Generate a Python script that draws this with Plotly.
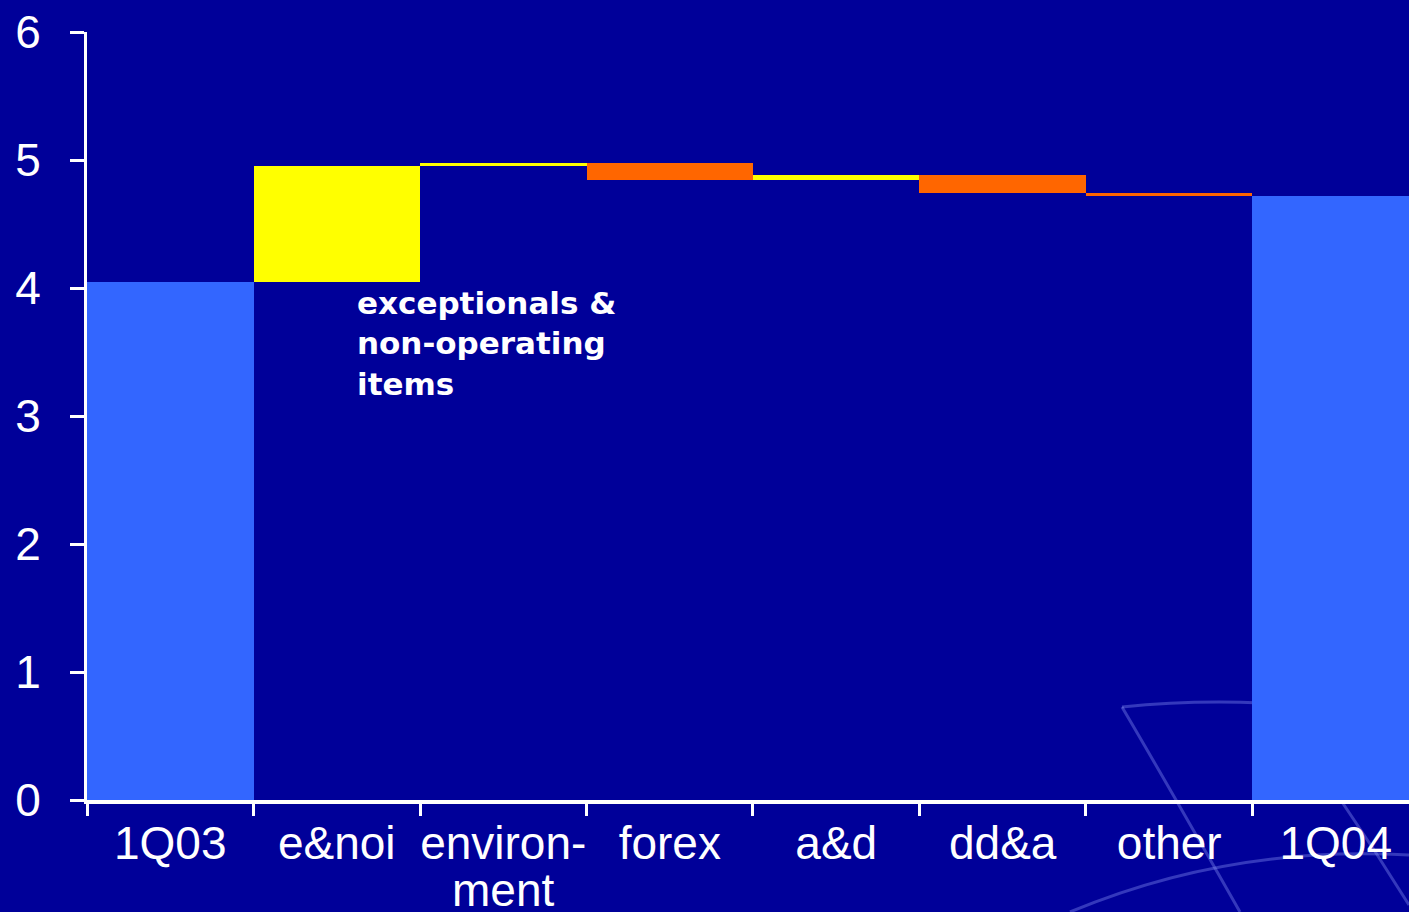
import plotly.graph_objects as go

# EPS bridge: 1Q03 to 1Q04
categories = ["1Q03", "e&noi", "environment", "forex", "a&d", "dd&a", "other", "1Q04"]
tick_labels = ["1Q03", "e&noi", "environ-", "forex", "a&d", "dd&a", "other", "1Q04"]
measures = ["absolute", "relative", "relative", "relative", "relative", "relative", "relative", "total"]
values = [4.05, 0.90, 0.03, -0.14, 0.04, -0.14, -0.02, None]
y_ticks = [0, 1, 2, 3, 4, 5, 6]

BG = "#000099"
TOTAL_BLUE = "#3366FF"
UP_YELLOW = "#FFFF00"
DOWN_ORANGE = "#FF6600"
WHITE = "#FFFFFF"

W, H = 1409, 912
M_L, M_R, M_T, M_B = 87, 0, 32, 112
PLOT_W = W - M_L - M_R
PLOT_H = H - M_T - M_B

TICK_FONT = dict(family="Liberation Sans, Arial, sans-serif", size=46, color=WHITE)

fig = go.Figure(
    go.Waterfall(
        x=categories,
        y=values,
        measure=measures,
        increasing=dict(marker=dict(color=UP_YELLOW, line=dict(width=0))),
        decreasing=dict(marker=dict(color=DOWN_ORANGE, line=dict(width=0))),
        totals=dict(marker=dict(color=TOTAL_BLUE, line=dict(width=0))),
        connector=dict(visible=False),
        textinfo="none",
        showlegend=False,
    )
)


def px(x, y):
    """Convert page pixels to paper coordinates."""
    return (x - M_L) / PLOT_W, (H - M_B - y) / PLOT_H


def curve(p0, c, p1):
    x0, y0 = px(*p0)
    cx, cy = px(*c)
    x1, y1 = px(*p1)
    return f"M {x0},{y0} Q {cx},{cy} {x1},{y1}"


# faint globe wireframe in the lower-right background
deco = [
    curve((1122, 707), (1190, 700), (1262, 703)),
    curve((1122, 707), (1165, 780), (1240, 912)),
    curve((1070, 912), (1230, 845), (1409, 855)),
    curve((1338, 796), (1375, 850), (1409, 905)),
]
shapes = [
    dict(type="path", path=p, xref="paper", yref="paper", layer="below",
         line=dict(color="rgba(150,160,255,0.35)", width=3))
    for p in deco
]

fig.update_layout(
    width=W,
    height=H,
    margin=dict(l=M_L, r=M_R, t=M_T, b=M_B, pad=0, autoexpand=False),
    paper_bgcolor=BG,
    plot_bgcolor=BG,
    waterfallgap=0,
    shapes=shapes,
    xaxis=dict(
        type="category",
        range=[-0.5, 7.44],
        tickvals=categories,
        ticktext=tick_labels,
        tickson="boundaries",
        tickangle=0,
        automargin=False,
        ticks="outside",
        ticklen=12,
        tickwidth=3,
        tickcolor=WHITE,
        showline=True,
        linecolor=WHITE,
        linewidth=4,
        showgrid=False,
        zeroline=False,
        tickfont=TICK_FONT,
        fixedrange=True,
    ),
    yaxis=dict(
        range=[0, 6],
        tickvals=y_ticks,
        automargin=False,
        ticks="outside",
        ticklen=14,
        tickwidth=3,
        tickcolor=WHITE,
        showline=True,
        linecolor=WHITE,
        linewidth=3,
        showgrid=False,
        zeroline=False,
        tickfont=TICK_FONT,
        ticklabelstandoff=20,
        fixedrange=True,
    ),
    annotations=[
        dict(
            x=1.107, y=4.04, xref="x", yref="y",
            xanchor="left", yanchor="top", align="left",
            text="exceptionals &<br>non-operating<br>items",
            showarrow=False,
            font=dict(family="DejaVu Sans, Verdana, sans-serif", size=31,
                      color=WHITE, weight="bold"),
        ),
        dict(
            x="environment", y=-0.117, xref="x", yref="paper",
            xanchor="center", yanchor="middle",
            text="ment", showarrow=False,
            font=TICK_FONT,
        ),
    ],
)

fig.write_html("out.html")
